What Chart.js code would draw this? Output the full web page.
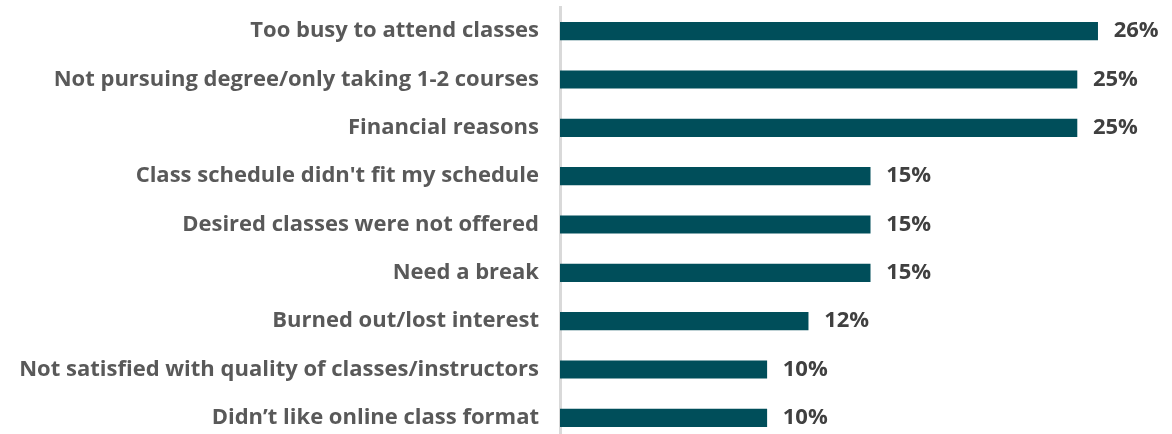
<!DOCTYPE html>
<html>
<head>
<meta charset="utf-8">
<script src="https://cdn.jsdelivr.net/npm/chart.js@4"></script>
<style>
html,body{margin:0;padding:0;background:#fff;overflow:hidden;}
#wrap{width:1172px;height:442px;position:relative;}
</style>
</head>
<body>
<div id="wrap"><canvas id="c"></canvas></div>
<script>
const categories = [
  "Too busy to attend classes",
  "Not pursuing degree/only taking 1-2 courses",
  "Financial reasons",
  "Class schedule didn't fit my schedule",
  "Desired classes were not offered",
  "Need a break",
  "Burned out/lost interest",
  "Not satisfied with quality of classes/instructors",
  "Didn\u2019t like online class format"
];
const values = [26, 25, 25, 15, 15, 15, 12, 10, 10];
const valueLabels = ["26%", "25%", "25%", "15%", "15%", "15%", "12%", "10%", "10%"];

const FONT = "'Open Sans', 'Noto Sans', sans-serif";

const valuePlugin = {
  id: 'valueLabels',
  afterDatasetsDraw(chart) {
    const ctx = chart.ctx;
    const meta = chart.getDatasetMeta(0);
    ctx.save();
    ctx.font = "bold 22px " + FONT;
    ctx.fillStyle = "#404040";
    ctx.textAlign = "left";
    ctx.textBaseline = "middle";
    meta.data.forEach((bar, i) => {
      ctx.fillText(valueLabels[i], bar.x + 16, bar.y);
    });
    ctx.restore();
  }
};

new Chart(document.getElementById('c'), {
  type: 'bar',
  data: {
    labels: categories,
    datasets: [{
      data: values,
      backgroundColor: '#004E5A',
      borderWidth: 0,
      barThickness: 17.5
    }]
  },
  options: {
    indexAxis: 'y',
    responsive: true,
    maintainAspectRatio: false,
    animation: false,
    layout: { padding: { top: 7, bottom: 0, left: 0, right: 33 } },
    plugins: { legend: { display: false }, tooltip: { enabled: false } },
    scales: {
      x: {
        display: false,
        min: 0,
        max: 28
      },
      y: {
        z: 1,
        afterFit(scale) {
          scale.width = 560;
          scale.paddingTop = 0;
          scale.paddingBottom = 0;
        },
        grid: { display: false },
        border: { display: true, color: '#D9D9D9', width: 3 },
        ticks: {
          padding: 13,
          color: '#595959',
          font: { family: FONT, size: 22, weight: 'bold' }
        }
      }
    }
  },
  plugins: [valuePlugin]
});
</script>
</body>
</html>
